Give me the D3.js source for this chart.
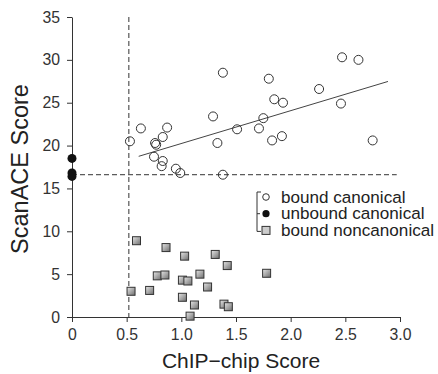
<!DOCTYPE html>
<html>
<head>
<meta charset="utf-8">
<script src="https://cdn.jsdelivr.net/npm/d3@7"></script>
<style>
  body { margin: 0; background: #fff; }
  svg { display: block; }
  text { font-family: "Liberation Sans", Arial, sans-serif; fill: #222; }
  .axis path, .axis line { stroke: #333; stroke-width: 1; }
  .axis text { font-size: 15.8px; fill: #333; }
</style>
</head>
<body>
<svg id="svg"></svg>
<script>
// bound canonical (open circles)
const boundCanonX = [0.53, 0.63, 0.87, 0.83, 0.76, 0.77, 0.75, 0.83, 0.82, 0.95, 0.99,
  1.29, 1.33, 1.38, 1.80, 2.47, 2.62, 2.26, 1.85, 1.93, 2.46, 1.75, 1.51, 1.71, 1.83, 1.92, 2.75, 1.38];
const boundCanonY = [20.5, 22.0, 22.1, 21.0, 20.3, 20.1, 18.7, 18.2, 17.6, 17.3, 16.8,
  23.4, 20.3, 28.5, 27.8, 30.3, 30.0, 26.6, 25.4, 25.0, 24.9, 23.2, 21.9, 22.0, 20.6, 21.1, 20.6, 16.6];

// unbound canonical (filled circles at ChIP score 0)
const unboundX = [0, 0, 0];
const unboundY = [18.5, 16.8, 16.4];

// bound noncanonical (squares)
const nonCanonX = [0.59, 0.86, 1.03, 1.31, 0.78, 0.85, 0.54, 0.71, 1.01, 1.06, 1.17,
  1.24, 1.01, 1.12, 1.08, 1.42, 1.78, 1.39, 1.43];
const nonCanonY = [8.9, 8.1, 7.1, 7.3, 4.8, 4.9, 3.0, 3.1, 4.3, 4.2, 5.0,
  3.5, 2.3, 1.4, 0.1, 6.0, 5.1, 1.5, 1.2];

// thresholds and fit line
const chipCutoff = 0.52;
const scanCutoff = 16.6;
const fitRange = [0.61, 2.89];
const fitSlope = 3.83;
const fitIntercept = 16.41;

const xTicks = [0, 0.5, 1.0, 1.5, 2.0, 2.5, 3.0];
const yTicks = [0, 5, 10, 15, 20, 25, 30, 35];
const legendLabels = ["bound canonical", "unbound canonical", "bound noncanonical"];

const width = 438, height = 374;
const svg = d3.select('#svg').attr('width', width).attr('height', height);

const x = d3.scaleLinear().domain([0, 3]).range([72, 400]);
const y = d3.scaleLinear().domain([0, 35]).range([317, 17]);

// gradient for squares
const defs = svg.append('defs');
const grad = defs.append('linearGradient')
  .attr('id', 'sq')
  .attr('x1', 0).attr('y1', 0).attr('x2', 1).attr('y2', 1);
grad.append('stop').attr('offset', '0%').attr('stop-color', '#e6e6e6');
grad.append('stop').attr('offset', '100%').attr('stop-color', '#6e6e6e');

// axes
svg.append('g')
  .attr('class', 'axis')
  .attr('transform', `translate(0,${y(0)})`)
  .call(d3.axisBottom(x).tickValues(xTicks).tickSize(5).tickSizeOuter(0)
    .tickFormat(d => d === 0 ? '0' : d3.format('.1f')(d)))
  .call(g => g.selectAll('text').attr('y', 22.5).attr('dy', 0));

svg.append('g')
  .attr('class', 'axis')
  .attr('transform', `translate(${x(0)},0)`)
  .call(d3.axisLeft(y).tickValues(yTicks).tickSize(5).tickSizeOuter(0))
  .call(g => g.selectAll('text').attr('x', -12));

// threshold dashed lines
svg.append('line')
  .attr('x1', x(chipCutoff)).attr('x2', x(chipCutoff))
  .attr('y1', y(35)).attr('y2', y(0))
  .attr('stroke', '#333').attr('stroke-dasharray', '5,3');
svg.append('line')
  .attr('x1', x(0)).attr('x2', x(2.97))
  .attr('y1', y(scanCutoff)).attr('y2', y(scanCutoff))
  .attr('stroke', '#333').attr('stroke-dasharray', '5,3');

// regression line
svg.append('line')
  .attr('x1', x(fitRange[0])).attr('y1', y(fitIntercept + fitSlope * fitRange[0]))
  .attr('x2', x(fitRange[1])).attr('y2', y(fitIntercept + fitSlope * fitRange[1]))
  .attr('stroke', '#444').attr('stroke-width', 1);

// squares
const sqSize = 8;
svg.append('g').selectAll('rect')
  .data(nonCanonX.map((d, i) => ({ x: d, y: nonCanonY[i] })))
  .enter().append('rect')
  .attr('x', d => x(d.x) - sqSize / 2)
  .attr('y', d => y(d.y) - sqSize / 2)
  .attr('width', sqSize).attr('height', sqSize)
  .attr('fill', 'url(#sq)')
  .attr('stroke', '#333').attr('stroke-width', 1);

// open circles
svg.append('g').selectAll('circle')
  .data(boundCanonX.map((d, i) => ({ x: d, y: boundCanonY[i] })))
  .enter().append('circle')
  .attr('cx', d => x(d.x)).attr('cy', d => y(d.y)).attr('r', 4.5)
  .attr('fill', 'none').attr('stroke', '#333').attr('stroke-width', 1);

// filled circles
svg.append('g').selectAll('circle')
  .data(unboundX.map((d, i) => ({ x: d, y: unboundY[i] })))
  .enter().append('circle')
  .attr('cx', d => x(d.x)).attr('cy', d => y(d.y)).attr('r', 4.5)
  .attr('fill', '#111');

// axis titles
svg.append('text')
  .attr('x', 241).attr('y', 368)
  .attr('text-anchor', 'middle')
  .style('font-size', '21px')
  .text('ChIP\u2212chip Score');

svg.append('text')
  .attr('transform', 'translate(28,169) rotate(-90)')
  .attr('text-anchor', 'middle')
  .style('font-size', '23.5px')
  .text('ScanACE Score');

// legend
const legX = 257, legY0 = 197, legStep = 16.7;
const leg = svg.append('g');
leg.append('path')
  .attr('d', `M${legX + 4},${legY0 - 5}H${legX}V${legY0 + 2 * legStep + 1}H${legX + 4}` +
    `M${legX},${legY0 + legStep}H${legX + 3}`)
  .attr('fill', 'none').attr('stroke', '#333');

legendLabels.forEach((lab, i) => {
  const cy = legY0 + i * legStep;
  if (i === 0) {
    leg.append('circle').attr('cx', legX + 9).attr('cy', cy).attr('r', 3.3)
      .attr('fill', 'none').attr('stroke', '#333');
  } else if (i === 1) {
    leg.append('circle').attr('cx', legX + 9).attr('cy', cy).attr('r', 3.6)
      .attr('fill', '#111');
  } else {
    leg.append('rect').attr('x', legX + 5).attr('y', cy - 4).attr('width', 8).attr('height', 8)
      .attr('fill', '#ccc').attr('stroke', '#333');
  }
  leg.append('text')
    .attr('x', legX + 24).attr('y', cy + 5.7)
    .style('font-size', '17.1px')
    .text(lab);
});
</script>
</body>
</html>
